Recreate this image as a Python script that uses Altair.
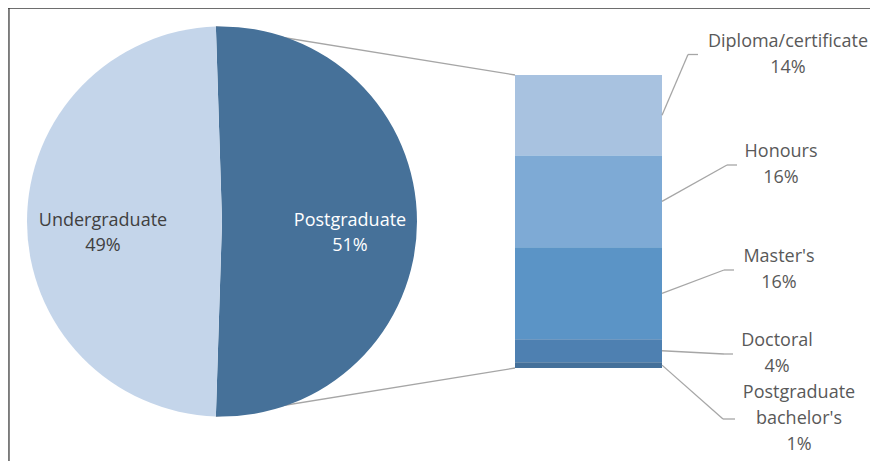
import math
import altair as alt
import pandas as pd

# ---------------- data ----------------
main_categories = ["Postgraduate", "Undergraduate"]
main_values = [51, 49]
main_colors = ["#467199", "#c4d5ea"]
main_label_colors = ["#ffffff", "#404040"]

sub_categories = ["Diploma/certificate", "Honours", "Master's", "Doctoral", "Postgraduate bachelor's"]
sub_label_lines = [["Diploma/certificate"], ["Honours"], ["Master's"], ["Doctoral"], ["Postgraduate", "bachelor's"]]
sub_values = [14, 16, 16, 4, 1]
sub_colors = ["#a8c2e0", "#7eaad5", "#5b94c6", "#4e80b1", "#44709a"]

# ---------------- layout (pixels, chart coordinates) ----------------
W, H = 862, 453
PIE_CX, PIE_CY, PIE_R = 214, 213.5, 195
BAR_LEFT, BAR_RIGHT, BAR_TOP, BAR_BOTTOM = 507, 654, 67, 360
main_label_x = [342, 95]
main_label_y = [225.5, 225.5]
sub_label_x = [780, 773, 771, 769, 791]
sub_label_y = [46.5, 157, 262, 346, 411]
sub_elbow_x = [680, 719, 716, 716, 715]
sub_end_x = [690, 729, 726, 725, 727]
FONT = "Open Sans"
FS = 18
LH = 26
LH_PIE = 25
LINE_COLOR = "#a6a6a6"
TEXT_COLOR = "#595959"

total_main = sum(main_values)
pg_total = sum(sub_values)

# ---------------- tables ----------------
main_df = pd.DataFrame({
    "cat": main_categories,
    "value": main_values,
    "idx": list(range(len(main_categories))),
    "label": [f"{c}\n{v}%" for c, v in zip(main_categories, main_values)],
    "lx": main_label_x,
    "ty": [y - LH_PIE / 2 for y in main_label_y],
    "lc": main_label_colors,
})

n_lines = [len(lines) + 1 for lines in sub_label_lines]
sub_df = pd.DataFrame({
    "cat": sub_categories,
    "value": sub_values,
    "idx": list(range(len(sub_categories))),
    "label": ["\n".join(lines + [f"{v}%"]) for lines, v in zip(sub_label_lines, sub_values)],
    "lx": sub_label_x,
    "ly": sub_label_y,
    "ty": [y - (n - 1) * LH / 2 for y, n in zip(sub_label_y, n_lines)],
    "ex": sub_elbow_x,
    "endx": sub_end_x,
})

# pie rotation: postgraduate slice centred on the right-hand side
frac = main_values[0] / total_main
start = math.pi / 2 - frac * math.pi + 2 * math.pi
end_ang = start + frac * 2 * math.pi
conn_df = pd.DataFrame({
    "x": [PIE_CX + PIE_R * math.sin(start), PIE_CX + PIE_R * math.sin(end_ang)],
    "y": [PIE_CY - PIE_R * math.cos(start), PIE_CY - PIE_R * math.cos(end_ang)],
    "x2": [BAR_LEFT, BAR_LEFT],
    "y2": [BAR_TOP, BAR_BOTTOM],
})

# ---------------- layers ----------------
pie = alt.Chart(main_df).mark_arc(radius=PIE_R).encode(
    theta=alt.Theta("value:Q", stack=True,
                    scale=alt.Scale(domain=[0, total_main], range=[start, start + 2 * math.pi])),
    color=alt.Color("cat:N", scale=alt.Scale(domain=main_categories, range=main_colors), legend=None),
    order=alt.Order("idx:Q"),
    x=alt.value(PIE_CX),
    y=alt.value(PIE_CY),
)

pie_text = alt.Chart(main_df).mark_text(
    font=FONT, fontSize=FS, lineBreak="\n", lineHeight=LH_PIE, align="center", baseline="middle"
).encode(
    x=alt.X("lx:Q", scale=None),
    y=alt.Y("ty:Q", scale=None),
    text="label:N",
    color=alt.Color("lc:N", scale=None),
)

connectors = alt.Chart(conn_df).mark_rule(color=LINE_COLOR, strokeWidth=1.3).encode(
    x=alt.X("x:Q", scale=None), y=alt.Y("y:Q", scale=None),
    x2="x2:Q", y2="y2:Q",
)

stack_sort = [alt.SortField("idx", order="descending")]

bar = alt.Chart(sub_df).transform_stack(
    stack="value", groupby=[], as_=["v0", "v1"], sort=stack_sort
).mark_bar().encode(
    x=alt.value(BAR_LEFT),
    x2=alt.value(BAR_RIGHT),
    y=alt.Y("v1:Q", scale=alt.Scale(domain=[0, pg_total], range=[BAR_BOTTOM, BAR_TOP], nice=False, zero=False),
            axis=None),
    y2="v0:Q",
    color=alt.Color("cat:N", scale=alt.Scale(domain=sub_categories, range=sub_colors), legend=None),
)

k = (BAR_BOTTOM - BAR_TOP) / pg_total
leader1 = alt.Chart(sub_df).transform_stack(
    stack="value", groupby=[], as_=["v0", "v1"], sort=stack_sort
).transform_calculate(
    ys=f"{BAR_BOTTOM} - (datum.v0 + datum.v1) / 2 * {k}",
    bx=f"{BAR_RIGHT}",
).mark_rule(color=LINE_COLOR, strokeWidth=1.3).encode(
    x=alt.X("bx:Q", scale=None),
    y=alt.Y("ys:Q", scale=None),
    x2="ex:Q",
    y2="ly:Q",
)

leader2 = alt.Chart(sub_df).mark_rule(color=LINE_COLOR, strokeWidth=1.3).encode(
    x=alt.X("ex:Q", scale=None),
    y=alt.Y("ly:Q", scale=None),
    x2="endx:Q",
)

sub_text = alt.Chart(sub_df).mark_text(
    font=FONT, fontSize=FS, lineBreak="\n", lineHeight=LH, align="center", baseline="middle",
    color=TEXT_COLOR,
).encode(
    x=alt.X("lx:Q", scale=None),
    y=alt.Y("ty:Q", scale=None),
    text="label:N",
)

dummy = alt.Data(values=[{"a": 1}])
top_border = alt.Chart(dummy).mark_rule(color="#6e6e6e", strokeWidth=1.2).encode(
    x=alt.value(0), x2=alt.value(W), y=alt.value(0.5)
)
left_border = alt.Chart(dummy).mark_rule(color="#3a3a3a", strokeWidth=1.2).encode(
    x=alt.value(1), y=alt.value(0), y2=alt.value(H)
)

chart = alt.layer(
    connectors, pie, pie_text, bar, leader1, leader2, sub_text, top_border, left_border
).resolve_scale(
    x="independent", y="independent", color="independent", theta="independent"
).properties(
    width=W, height=H, padding=0, autosize=alt.AutoSizeParams(type="none")
).configure_view(stroke=None).configure(background="#ffffff")

chart.save("out.html", embed_options={"renderer": "svg", "actions": False})
